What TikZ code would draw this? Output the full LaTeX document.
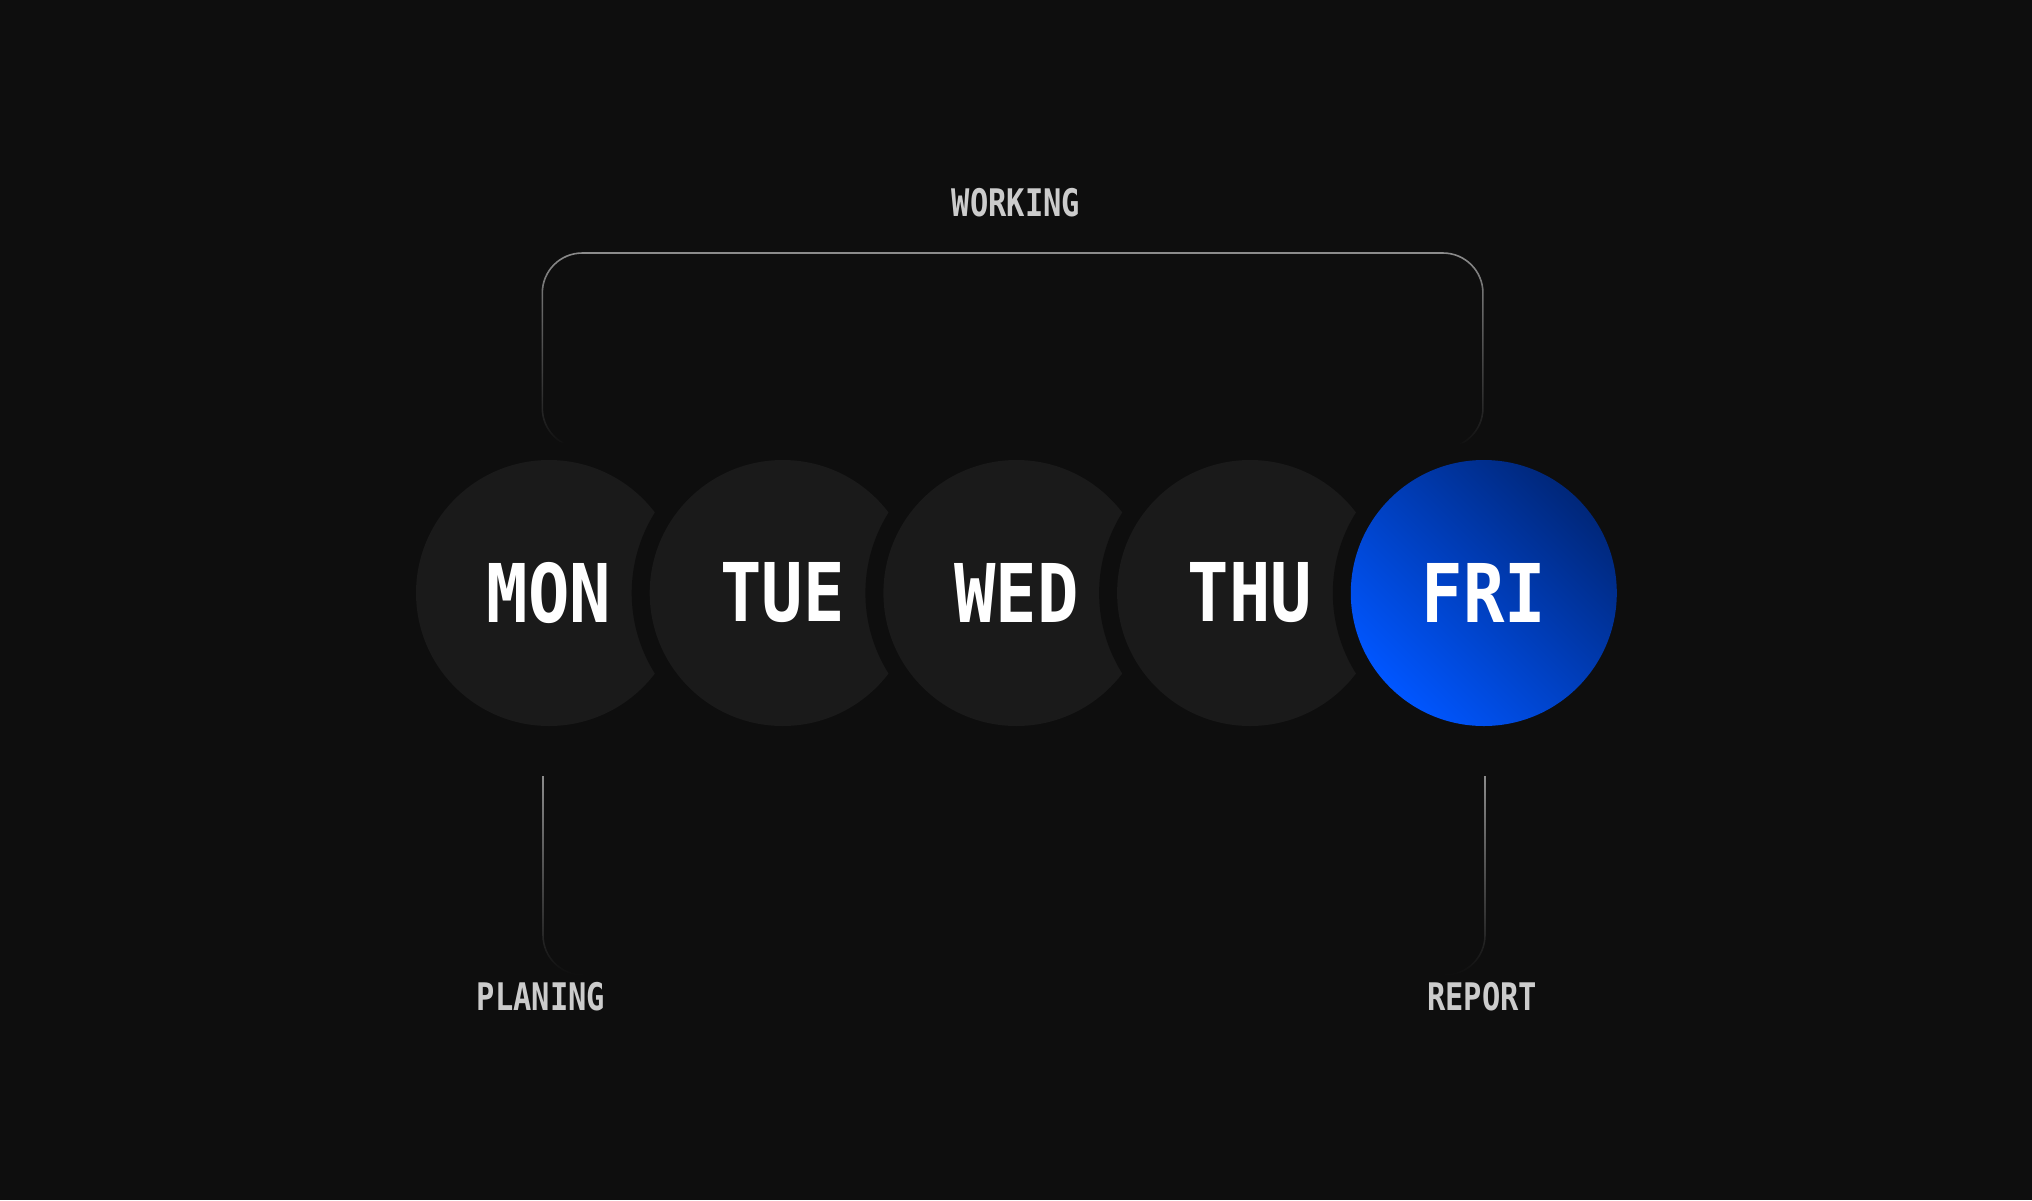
\documentclass[tikz,border=0pt]{standalone}
\usepackage{fontspec}
\usepackage{graphicx}
\usetikzlibrary{fadings}
\setmonofont{DejaVu Sans Mono}
\definecolor{bgcol}{HTML}{0E0E0E}
\definecolor{daygray}{HTML}{1A1A1A}
\definecolor{linegray}{HTML}{8C8C8C}
\definecolor{labelgray}{HTML}{CCCCCC}
\definecolor{friblue}{HTML}{0056FF}
\definecolor{fridark}{HTML}{00277A}
\tikzfading[name=fadedown, top color=transparent!0, bottom color=transparent!100]

\begin{document}
\begin{tikzpicture}[x=1pt,y=-1pt,
    day/.style={circle,minimum size=266pt,inner sep=0pt,text=white,
      font=\ttfamily\bfseries\fontsize{81}{81}\selectfont},
    gap/.style={fill=bgcol},
    tag/.style={text=labelgray,font=\ttfamily\bfseries\fontsize{38}{38}\selectfont},
    trail/.style={draw=linegray,line width=1.6pt,rounded corners=40pt,path fading=fadedown}]
  %\draw[help lines,step=100](0,0) grid (2032,1200);
  \fill[bgcol] (0,0) rectangle (2032,1200);
  \useasboundingbox (0,0) rectangle (2032,1200);

  % bracket over the week
  \coordinate (wl) at (583,448);
  \coordinate (wlb) at (543,448);
  \coordinate (wlt) at (543,253);
  \coordinate (wrt) at (1485,253);
  \coordinate (wrb) at (1485,448);
  \coordinate (wr) at (1445,448);
  \draw[trail] (wl) -- (wlb) -- (wlt) -- (wrt) -- (wrb) -- (wr);

  % lines down to the labels
  \coordinate (pt) at (543,776);
  \coordinate (pb) at (543,975);
  \coordinate (pe) at (583,975);
  \coordinate (rt) at (1485,776);
  \coordinate (rb) at (1485,975);
  \coordinate (re) at (1445,975);
  \draw[trail] (pt) -- (pb) -- (pe);
  \draw[trail] (rt) -- (rb) -- (re);

  \foreach \day/\name [count=\i from 0] in {MON/mon,TUE/tue,WED/wed,THU/thu}{
    \fill[gap] (549+233.7*\i,593) circle (151pt);
    \node[day,fill=daygray] (\name) at (549+233.7*\i,593) {\scalebox{0.85}[1]{\day}};
  }
  \fill[gap] (1483.8,593) circle (151pt);
  \node[day,top color=fridark,bottom color=friblue,shading angle=-45] (fri) at (1483.8,593) {\scalebox{0.85}[1]{FRI}};

  \node[tag] (working) at (1016,203) {\scalebox{0.8}[1]{WORKING}};
  \node[tag] (planing) at (541,997) {\scalebox{0.8}[1]{PLANING}};
  \node[tag] (report) at (1482,997) {\scalebox{0.8}[1]{REPORT}};
\end{tikzpicture}
\end{document}
